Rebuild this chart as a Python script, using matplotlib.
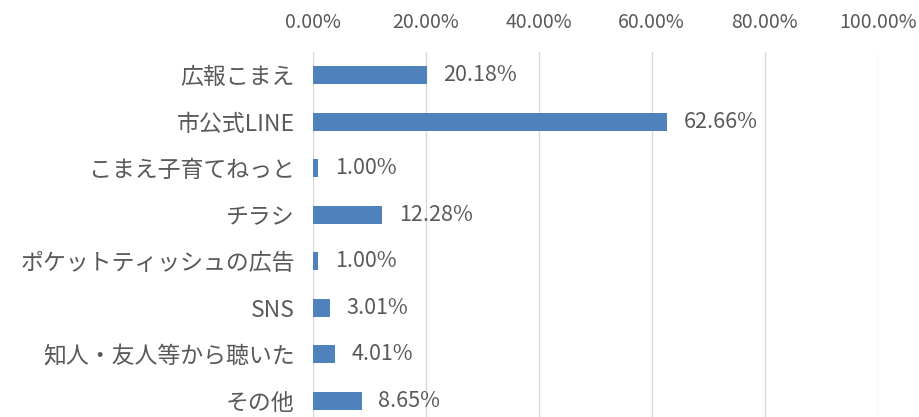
import matplotlib
matplotlib.use("Agg")
import matplotlib.pyplot as plt
from matplotlib.ticker import FuncFormatter

plt.rcParams['font.family'] = ['Noto Sans CJK JP', 'DejaVu Sans']

categories = ["広報こまえ", "市公式LINE", "こまえ子育てねっと", "チラシ",
              "ポケットティッシュの広告", "SNS", "知人・友人等から聴いた", "その他"]
values = [20.18, 62.66, 1.00, 12.28, 1.00, 3.01, 4.01, 8.65]
xticks = [0, 20, 40, 60, 80, 100]

bar_color = "#4F81BD"
text_color = "#595959"
grid_color = "#D9D9D9"

fig = plt.figure(figsize=(9.2, 4.17), dpi=100)
ax = fig.add_axes([0.340, 0.0, 0.614, 0.875])

y = list(range(len(categories)))
bars = ax.barh(y, values, height=0.39, color=bar_color, zorder=3)

ax.set_xlim(0, 100)
ax.set_ylim(7.35, -0.5)
ax.set_yticks(y)
ax.set_yticklabels(categories, fontsize=16.5, color=text_color)
ax.set_xticks(xticks)
ax.xaxis.set_major_formatter(FuncFormatter(lambda v, p: f"{v:.2f}%"))
ax.xaxis.tick_top()
ax.tick_params(axis='x', length=0, pad=14, labelsize=14, labelcolor=text_color)
ax.tick_params(axis='y', length=0, pad=13)

ax.grid(axis='x', color=grid_color, linewidth=1.0, zorder=0)
for side in ["top", "right", "bottom", "left"]:
    ax.spines[side].set_visible(False)

ax.bar_label(bars, labels=[f"{v:.2f}%" for v in values], padding=12,
             fontsize=15.5, color=text_color)

fig.savefig("out.png", dpi=100)
